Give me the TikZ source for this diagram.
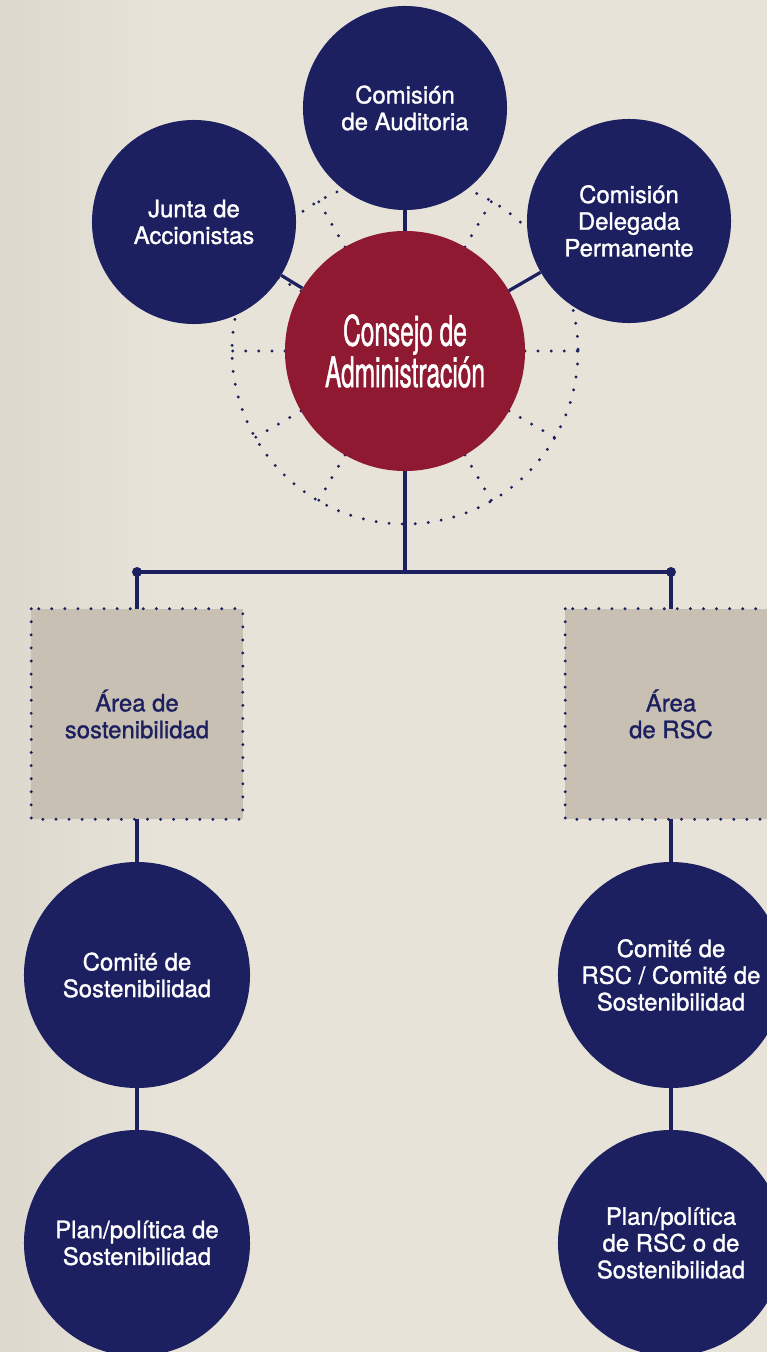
\documentclass[tikz,border=0pt]{standalone}
\usepackage{fontspec}
\usetikzlibrary{calc}
\setmainfont[FakeBold=1.2,AutoFakeBold=1.2]{TeX Gyre Heros}
\newfontfamily\boxfont[FakeBold=1.2]{TeX Gyre Heros}
\newfontfamily\condfont[FakeStretch=0.58,FakeBold=1]{TeX Gyre Heros}
\definecolor{orgNavy}{HTML}{1D2060}
\definecolor{orgRed}{HTML}{8E1931}
\definecolor{orgBox}{HTML}{C8C0B3}
\definecolor{orgBgL}{HTML}{DCD8CE}
\definecolor{orgBgR}{HTML}{E7E3D8}
\begin{document}
\begin{tikzpicture}[x=0.025cm, y=-0.025cm,
    orgCircle/.style={circle, fill=orgNavy, text=white, minimum size=5.1cm, inner sep=0pt, align=center, font=\boxfont\fontsize{17pt}{19pt}\selectfont},
    orgBigCircle/.style={orgCircle, minimum size=5.65cm},
    orgCenter/.style={circle, fill=orgRed, text=white, minimum size=6cm, inner sep=0pt, align=center, font=\condfont\fontsize{30pt}{28pt}\selectfont},
    orgArea/.style={rectangle, fill=orgBox, text=orgNavy, minimum width=5.275cm, minimum height=5.25cm, inner sep=0pt, align=center, font=\boxfont\fontsize{17pt}{19pt}\selectfont},
    orgDots/.style={draw=orgNavy, line width=2.3pt, line cap=round, dash pattern=on 0pt off 9.3pt},
    orgEdge/.style={draw=orgNavy, line width=2.3pt}
]
% background
\useasboundingbox (0,0) rectangle (767,1352);
\clip (0,0) rectangle (767,1352);
\fill[orgBgR] (0,0) rectangle (767,1352);
\shade[left color=orgBgL, right color=orgBgR] (0,0) rectangle (160,1352);

% dotted ring round the board
\draw[orgDots] (405,351) circle [radius=173];
\foreach \a in {0,30,...,330}
  \draw[orgDots] ($(405,351)+(\a:120)$) -- ($(405,351)+(\a:173)$);

% board and committees
\node[orgCenter] (consejo) at (405,351) {Consejo de\\Administración};
\node[orgCircle] (auditoria) at (405,108) {Comisión\\de Auditoria};
\node[orgCircle] (junta) at (194,222) {Junta de\\Accionistas};
\node[orgCircle] (delegada) at (629,221) {Comisión\\Delegada\\Permanente};
\draw[orgEdge] (auditoria) -- (consejo);
\draw[orgEdge] (junta) -- (consejo);
\draw[orgEdge] (delegada) -- (consejo);

% split into the two branches
\coordinate (split) at (405,572);
\coordinate (splitL) at (137,572);
\coordinate (splitR) at (671,572);
\draw[orgEdge] (consejo) -- (split);
\draw[orgEdge] (splitL) -- (splitR);
\fill[orgNavy] (splitL) circle [radius=5];
\fill[orgNavy] (splitR) circle [radius=5];

% left branch
\node[orgArea] (areaSost) at (137,714) {Área de\\sostenibilidad};
\draw[orgDots] (areaSost.north west) rectangle (areaSost.south east);
\node[orgBigCircle] (comiteSost) at (137,975) {Comité de\\Sostenibilidad};
\node[orgBigCircle] (planSost) at (137,1243) {Plan/política de\\Sostenibilidad};
\draw[orgEdge] (splitL) -- (areaSost);
\draw[orgEdge] (areaSost) -- (comiteSost);
\draw[orgEdge] (comiteSost) -- (planSost);

% right branch
\node[orgArea] (areaRsc) at (671,714) {Área\\de RSC};
\draw[orgDots] (areaRsc.north west) rectangle (areaRsc.south east);
\node[orgBigCircle] (comiteRsc) at (671,975) {Comité de\\RSC / Comité de\\Sostenibilidad};
\node[orgBigCircle] (planRsc) at (671,1243) {Plan/política\\de RSC o de\\Sostenibilidad};
\draw[orgEdge] (splitR) -- (areaRsc);
\draw[orgEdge] (areaRsc) -- (comiteRsc);
\draw[orgEdge] (comiteRsc) -- (planRsc);
\end{tikzpicture}
\end{document}
